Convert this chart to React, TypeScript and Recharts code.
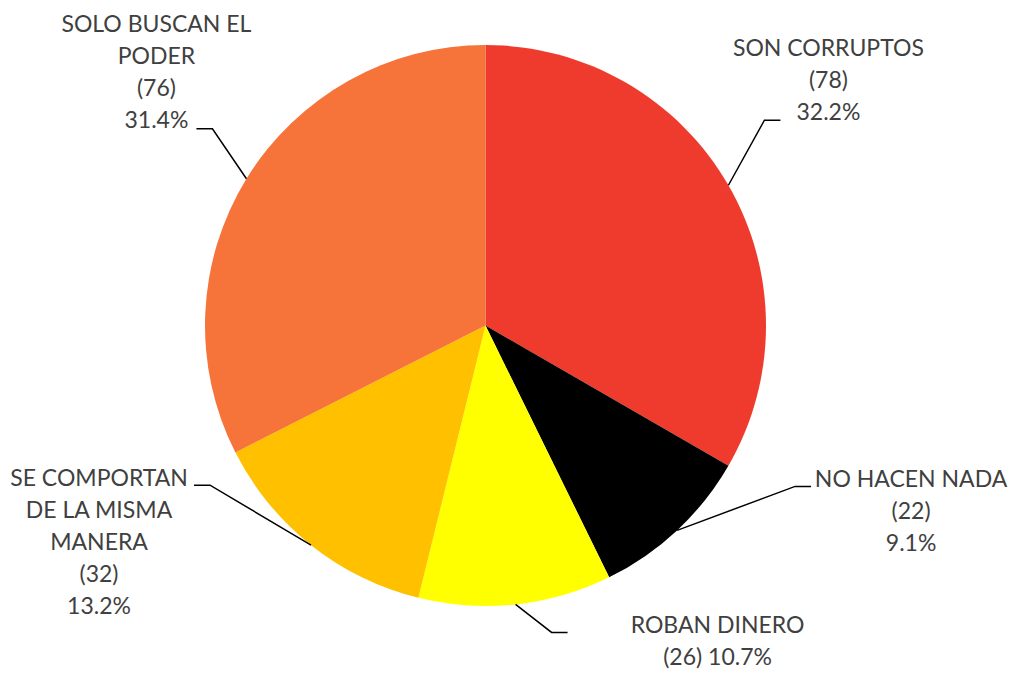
import { PieChart, Pie, Cell } from "recharts";

const categories = [
  "SON CORRUPTOS",
  "NO HACEN NADA",
  "ROBAN DINERO",
  "SE COMPORTAN DE LA MISMA MANERA",
  "SOLO BUSCAN EL PODER",
];
const counts = [78, 22, 26, 32, 76];
const percents = ["32.2%", "9.1%", "10.7%", "13.2%", "31.4%"];
const colors = ["#EF3B2D", "#000000", "#FFFF00", "#FFC000", "#F67339"];

// how the category names wrap in the original labels
const nameLines = [
  ["SON CORRUPTOS"],
  ["NO HACEN NADA"],
  ["ROBAN DINERO"],
  ["SE COMPORTAN", "DE LA MISMA", "MANERA"],
  ["SOLO BUSCAN EL", "PODER"],
];
const countOnSameLine = [false, false, true, false, false];

// leader elbow offset from the slice edge, text offset from the line end
const labelPos = [
  { ex: 36, ey: -65, tx: 48, ty: -73 },
  { ex: 118, ey: -44, tx: 100, ty: -8 },
  { ex: 36, ey: 28, tx: 150, ty: -8 },
  { ex: -101, ey: -60, tx: -95, ty: -8 },
  { ex: -34, ey: -50, tx: -40, ty: -106 },
];

const data = categories.map((name, i) => ({ name, value: counts[i] }));

const RADIAN = Math.PI / 180;
const LINE_H = 32;

function renderLabel(props: any) {
  const { cx, cy, midAngle, outerRadius, index } = props;
  const p = labelPos[index];
  const ax = cx + outerRadius * Math.cos(-midAngle * RADIAN);
  const ay = cy + outerRadius * Math.sin(-midAngle * RADIAN);
  const bx = ax + p.ex;
  const by = ay + p.ey;
  const lx = bx + (p.tx > 0 ? 16 : -16);
  const lines = countOnSameLine[index]
    ? [...nameLines[index], `(${counts[index]}) ${percents[index]}`]
    : [...nameLines[index], `(${counts[index]})`, percents[index]];
  return (
    <g key={`lbl-${index}`}>
      <polyline
        points={`${ax},${ay} ${bx},${by} ${lx},${by}`}
        fill="none"
        stroke="#000"
        strokeWidth={1.5}
      />
      {lines.map((t, j) => (
        <text
          key={j}
          x={lx + p.tx}
          y={by + p.ty + j * LINE_H}
          textAnchor="middle"
          dominantBaseline="central"
          fill="#404040"
          fontSize={23}
          fontFamily="Lato, 'Liberation Sans', sans-serif"
        >
          {t}
        </text>
      ))}
    </g>
  );
}

export default function App() {
  return (
    <div style={{ position: "absolute", left: 0, top: 0, background: "#fff" }}>
      <PieChart width={1011} height={673} margin={{ top: 0, right: 0, bottom: 0, left: 0 }}>
        <Pie
          data={data}
          dataKey="value"
          nameKey="name"
          cx={485.5}
          cy={325.5}
          outerRadius={280.5}
          startAngle={90}
          endAngle={-270}
          stroke="none"
          label={renderLabel}
          labelLine={false}
          isAnimationActive={false}
        >
          {data.map((d, i) => (
            <Cell key={d.name} fill={colors[i]} />
          ))}
        </Pie>
      </PieChart>
    </div>
  );
}
